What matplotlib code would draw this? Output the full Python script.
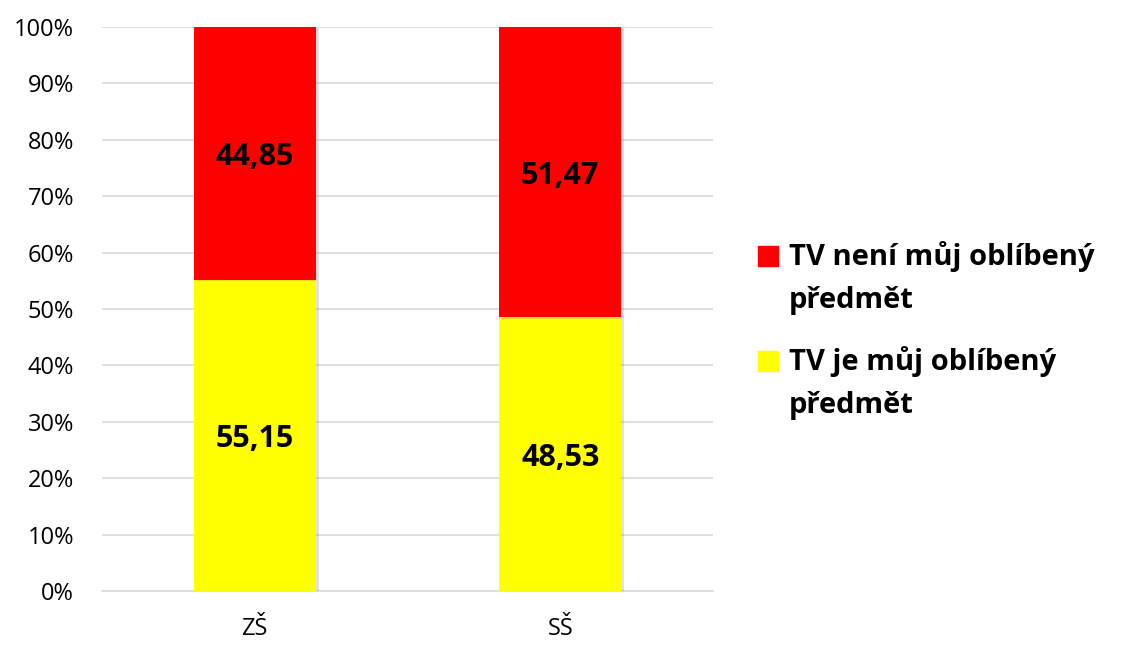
import matplotlib
matplotlib.use("Agg")
from matplotlib import pyplot as plt
from matplotlib.patches import Rectangle
import matplotlib.patheffects as pe

# data
categories = ["ZŠ", "SŠ"]
favourite = [55.15, 48.53]       # TV je můj oblíbený předmět
not_favourite = [44.85, 51.47]   # TV není můj oblíbený předmět
labels = ["TV není můj oblíbený\npředmět", "TV je můj oblíbený\npředmět"]
colors = ["#ff0000", "#ffff00"]

plt.rcParams['font.family'] = ['Open Sans', 'DejaVu Sans']

W, H = 1121, 645
fig = plt.figure(figsize=(W / 100, H / 100), dpi=100)
ax = fig.add_axes([0.091, 0.0837, 0.545, 0.8745])

shadow = [pe.SimplePatchShadow(offset=(2, -1), shadow_rgbFace="#888888", alpha=0.25), pe.Normal()]

x = range(len(categories))
b1 = ax.bar(x, favourite, 0.4, color=colors[1], zorder=3)
b2 = ax.bar(x, not_favourite, 0.4, bottom=favourite, color=colors[0], zorder=3)
for p in list(b1) + list(b2):
    p.set_path_effects(shadow)

for i in x:
    ax.text(i, favourite[i] / 2 - 0.6, ("%.2f" % favourite[i]).replace(".", ","),
            ha="center", va="center", fontsize=22, fontweight="bold", zorder=4)
    ax.text(i, favourite[i] + not_favourite[i] / 2 - 0.6,
            ("%.2f" % not_favourite[i]).replace(".", ","),
            ha="center", va="center", fontsize=22, fontweight="bold", zorder=4)

ax.set_xlim(-0.5, 1.5)
ax.set_ylim(0, 100)
ax.set_yticks(range(0, 101, 10))
ax.set_yticklabels(["%d%%" % v for v in range(0, 101, 10)])
ax.set_xticks(list(x))
ax.set_xticklabels(categories)
ax.tick_params(axis="both", length=0, labelsize=17)
ax.tick_params(axis="y", pad=20)
ax.tick_params(axis="x", pad=19)
ax.grid(axis="y", color="#d9d9d9", linewidth=1.2, zorder=0)
for s in ["top", "right", "left"]:
    ax.spines[s].set_visible(False)
ax.spines["bottom"].set_color("#d9d9d9")
ax.spines["bottom"].set_linewidth(1.2)

# legend drawn by hand so the marker lines up with the first text line
entry_top = [265, 370]   # baseline of first line, pixels from top
for lab, col, yb in zip(labels, colors, entry_top):
    fig.patches.append(Rectangle((758 / W, 1 - (yb + 1) / H), 20 / W, 20 / H,
                                 transform=fig.transFigure, color=col))
    for k, line in enumerate(lab.split("\n")):
        fig.text(789 / W, 1 - (yb + 43 * k) / H, line, fontsize=21,
                 fontweight="bold", va="baseline", ha="left")

plt.savefig("out.png", dpi=100)
